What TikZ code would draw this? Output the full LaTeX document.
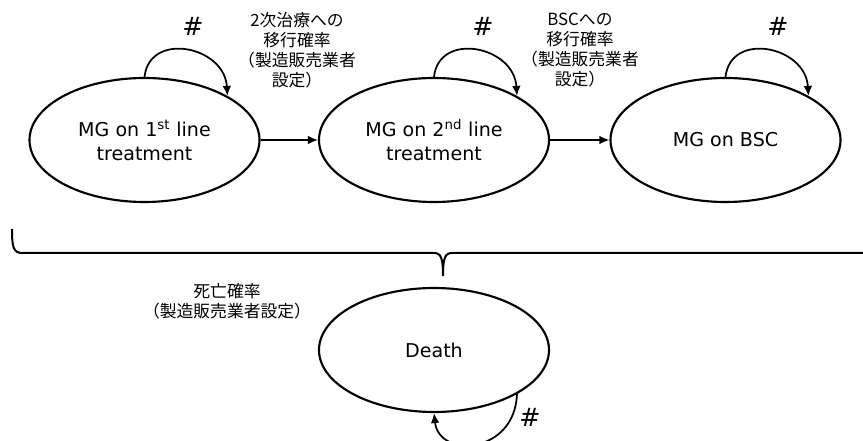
\documentclass[tikz,border=0pt]{standalone}
\usepackage{fontspec}
\setmainfont{DejaVu Sans}
\newfontfamily\jpfont{Noto Sans CJK JP}
\usetikzlibrary{shapes.geometric,arrows.meta}
\begin{document}
\begin{tikzpicture}[x=0.75pt,y=-0.75pt,
  state/.style={draw,ellipse,line width=1.6pt,minimum width=172.5pt,minimum height=93pt,inner sep=0pt,align=center,font=\fontsize{14.3pt}{18pt}\selectfont},
  conn/.style={line width=1.3pt,-{Latex[length=7.5pt,width=6.5pt]}},
  hashlbl/.style={font=\fontsize{19pt}{22pt}\selectfont},
  jplbl/.style={align=center,font=\jpfont\fontsize{12.6pt}{15pt}\selectfont}]
\useasboundingbox (0,0) rectangle (863,441);
\clip (0,0) rectangle (863,441);

\node[state] (s1) at (144.5,140) {MG on 1\textsuperscript{st} line\\treatment};
\node[state] (s2) at (434,140) {MG on 2\textsuperscript{nd} line\\treatment};
\node[state] (s3) at (725.5,140) {MG on BSC};
\node[state] (d) at (434,350) {Death};

\draw[conn] (s1.east) -- (s2.west);
\draw[conn] (s2.east) -- (s3.west);

\draw[conn] (s1.north) .. controls +(5,-46) and +(-3,-50) .. (s1.28);
\draw[conn] (s2.north) .. controls +(5,-46) and +(-3,-50) .. (s2.28);
\draw[conn] (s3.north) .. controls +(5,-46) and +(-3,-50) .. (s3.28);
\draw[conn] (d.-28) .. controls +(-2,60) and +(5,46) .. (d.south);

\node[hashlbl] (h1) at (193,26) {\#};
\node[hashlbl] (h2) at (483,26) {\#};
\node[hashlbl] (h3) at (778,26) {\#};
\node[hashlbl] (h4) at (530,417) {\#};

\node[jplbl] (l1) at (297,50) {2次治療への\\移行確率\\（製造販売業者\\設定）};
\node[jplbl] (l2) at (580,50) {BSCへの\\移行確率\\（製造販売業者\\設定）};
\node[jplbl] (l3) at (227,301) {死亡確率\\（製造販売業者設定）};

\draw[line width=1.5pt] (12,229) .. controls (12,246) and (13,253) .. (22,253)
  -- (434,253) .. controls (441,253) and (443,258) .. (443,276)
  .. controls (443,258) and (445,253) .. (452,253) -- (870,253);
\end{tikzpicture}
\end{document}
